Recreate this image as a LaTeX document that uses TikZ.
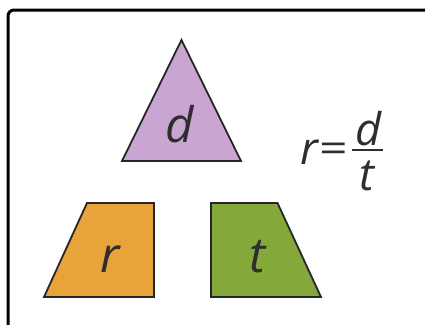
\documentclass[tikz,border=0pt]{standalone}
\usepackage{graphicx}
\usepackage{fontspec}
\setmainfont{Open Sans}
\begin{document}
\begin{tikzpicture}[x=1pt,y=-1pt,
  shapeline/.style={draw=black!85,line width=1.8pt,line join=miter},
  lbl/.style={font=\fontsize{49}{49}\selectfont\itshape,text=black!82,inner sep=0pt,anchor=base},
  flbl/.style={font=\fontsize{45}{45}\selectfont\itshape,text=black!82,inner sep=0pt,anchor=base}]
\useasboundingbox (0,0) rectangle (425,324);
\definecolor{lav}{HTML}{C9A6D2}
\definecolor{org}{HTML}{E9A33B}
\definecolor{grn}{HTML}{84A83A}
\draw[line width=3pt,rounded corners=6pt] (8,340) -- (8,10) -- (440,10);
\filldraw[shapeline,fill=lav] (181.5,40) -- (241,161) -- (122,161) -- cycle;
\filldraw[shapeline,fill=org] (87,203) -- (154,203) -- (154,297) -- (44,297) -- cycle;
\filldraw[shapeline,fill=grn] (211,203) -- (277.5,203) -- (321,297) -- (211,297) -- cycle;
\node[lbl] (d) at (180,142) {d};
\node[lbl] (r) at (110,272) {r};
\node[lbl] (t) at (258,272) {t};
\node[flbl] (fr) at (309,164) {r};
\node[font=\fontsize{40}{40}\selectfont,text=black!82,inner sep=0pt] (eq) at (334,153) {\scalebox{1.25}[1]{=}};
\coordinate (b1) at (352,150);
\coordinate (b2) at (383,150);
\draw[line width=2.2pt,black!82] (b1) -- (b2);
\node[flbl] (fd) at (368,145) {d};
\node[flbl] (ft) at (367,190) {t};
\end{tikzpicture}
\end{document}
